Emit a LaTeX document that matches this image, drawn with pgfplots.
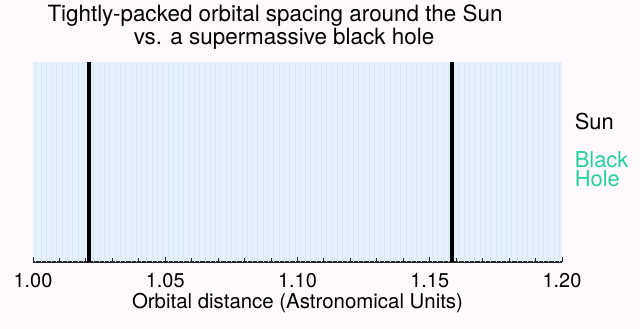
\documentclass[border=0pt]{standalone}
\usepackage{pgfplots}
\pgfplotsset{compat=1.18}
\usepackage{fontspec}
\setmainfont{TeX Gyre Heros}
\definecolor{pagebg}{RGB}{253,249,253}
\definecolor{bhfill}{RGB}{229,242,252}
\definecolor{bhline}{RGB}{215,233,248}
\definecolor{bhgreen}{RGB}{40,208,155}
\begin{document}
\begin{tikzpicture}
\fill[pagebg] (-33bp,-67bp) rectangle (607bp,262bp);
\path[use as bounding box] (-33bp,-67bp) rectangle (607bp,262bp);
\begin{axis}[
  at={(0,0)}, anchor=origin,
  scale only axis, width=529bp, height=200bp,
  xmin=1.0, xmax=1.2, ymin=0, ymax=1,
  axis x line=bottom, axis y line=none,
  axis line style={-, line width=1.4bp, black!85},
  axis background/.style={fill=bhfill},
  xtick={1.00,1.05,1.10,1.15,1.20},
  minor xtick={1.01,1.02,1.03,1.04,1.06,1.07,1.08,1.09,1.11,1.12,1.13,1.14,1.16,1.17,1.18,1.19},
  tick align=inside,
  major tick length=5bp, minor tick length=4bp,
  every tick/.style={black!85, line width=1bp},
  xticklabel style={/pgf/number format/fixed, /pgf/number format/precision=2, /pgf/number format/fixed zerofill, font=\fontsize{20}{20}\selectfont, yshift=-8bp},
  /pgf/number format/assume math mode=true,
  xlabel={Orbital distance (Astronomical Units)},
  xlabel style={font=\fontsize{20.5}{20.5}\selectfont, yshift=2bp},
  clip=true,
  legend style={at={(1.02,0.755)}, anchor=north west, draw=none, fill=none,
    font=\fontsize{22}{20}\selectfont, cells={align=left, anchor=west},
    row sep=16bp, inner sep=0pt},
  legend cell align=left,
]
\addplot[bhline, line width=0.7bp, ycomb, mark=none, forget plot] coordinates {
(1.001,1)(1.003,1)(1.005,1)(1.007,1)(1.009,1)(1.011,1)(1.013,1)(1.015,1)(1.017,1)(1.019,1)
(1.021,1)(1.023,1)(1.025,1)(1.027,1)(1.029,1)(1.031,1)(1.033,1)(1.035,1)(1.037,1)(1.039,1)
(1.041,1)(1.043,1)(1.045,1)(1.047,1)(1.049,1)(1.051,1)(1.053,1)(1.055,1)(1.057,1)(1.059,1)
(1.061,1)(1.063,1)(1.065,1)(1.067,1)(1.069,1)(1.071,1)(1.073,1)(1.075,1)(1.077,1)(1.079,1)
(1.081,1)(1.083,1)(1.085,1)(1.087,1)(1.089,1)(1.091,1)(1.093,1)(1.095,1)(1.097,1)(1.099,1)
(1.101,1)(1.103,1)(1.105,1)(1.107,1)(1.109,1)(1.111,1)(1.113,1)(1.115,1)(1.117,1)(1.119,1)
(1.121,1)(1.123,1)(1.125,1)(1.127,1)(1.129,1)(1.131,1)(1.133,1)(1.135,1)(1.137,1)(1.139,1)
(1.141,1)(1.143,1)(1.145,1)(1.147,1)(1.149,1)(1.151,1)(1.153,1)(1.155,1)(1.157,1)(1.159,1)
(1.161,1)(1.163,1)(1.165,1)(1.167,1)(1.169,1)(1.171,1)(1.173,1)(1.175,1)(1.177,1)(1.179,1)
(1.181,1)(1.183,1)(1.185,1)(1.187,1)(1.189,1)(1.191,1)(1.193,1)(1.195,1)(1.197,1)(1.199,1)
};
\addplot[black, line width=3.5bp, ycomb, mark=none, forget plot] coordinates {
(1.0211,1)(1.1585,1)
};
\addlegendimage{empty legend}
\addlegendentry{Sun}
\addlegendimage{empty legend}
\addlegendentry{\textcolor{bhgreen}{Black}\\\textcolor{bhgreen}{Hole}}
\end{axis}
\node[font=\fontsize{22.5}{22.5}\selectfont, anchor=base] at (242bp,240bp) {Tightly-packed orbital spacing around the Sun};
\node[font=\fontsize{22.5}{22.5}\selectfont, anchor=base] at (251bp,217bp) {vs. a supermassive black hole};
\end{tikzpicture}
\end{document}
